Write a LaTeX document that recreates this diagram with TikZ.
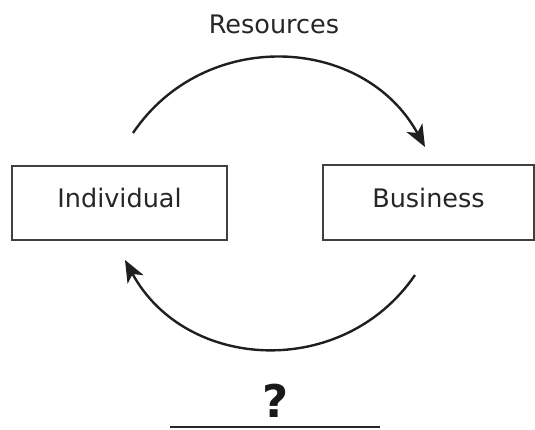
\documentclass[tikz,border=0pt]{standalone}
\usepackage{fontspec}
\setmainfont{DejaVu Sans}
\usetikzlibrary{arrows.meta}
\begin{document}
\begin{tikzpicture}[x=1pt,y=-1pt,
  lbl/.style={font=\fontsize{25.5}{28}\selectfont, text=black!85},
  boxnode/.style={draw=black!75, line width=2.8pt, lbl, inner sep=0pt,
    text height=0.94em, text depth=0pt},
  flow/.style={draw=black!88, line width=2.4pt,
    -{Stealth[length=22pt,width=18pt,inset=6pt]}}]
\useasboundingbox (0,0) rectangle (535,429);
\node[boxnode, minimum width=215pt, minimum height=74pt] (ind) at (119.5,203) {Individual};
\node[boxnode, minimum width=211pt, minimum height=75pt] (bus) at (428.5,202.5) {Business};
\node[lbl, anchor=base] (res) at (274,33) {Resources};
\node[anchor=base, font=\fontsize{45}{48}\selectfont\bfseries, text=black!90, inner sep=0pt] (q) at (276,417) {?};
\coordinate (t1) at (133,133);
\coordinate (t2) at (425,147);
\coordinate (b1) at (415,275);
\coordinate (b2) at (125,260);
\coordinate (l1) at (170,427);
\coordinate (l2) at (380,427);
\draw[flow] (t1) .. controls (204.5,27) and (363.6,34.8) .. (t2);
\draw[flow] (b1) .. controls (343.2,379.8) and (185.6,371.6) .. (b2);
\draw[draw=black!85, line width=2.8pt] (l1) -- (l2);
\end{tikzpicture}
\end{document}
